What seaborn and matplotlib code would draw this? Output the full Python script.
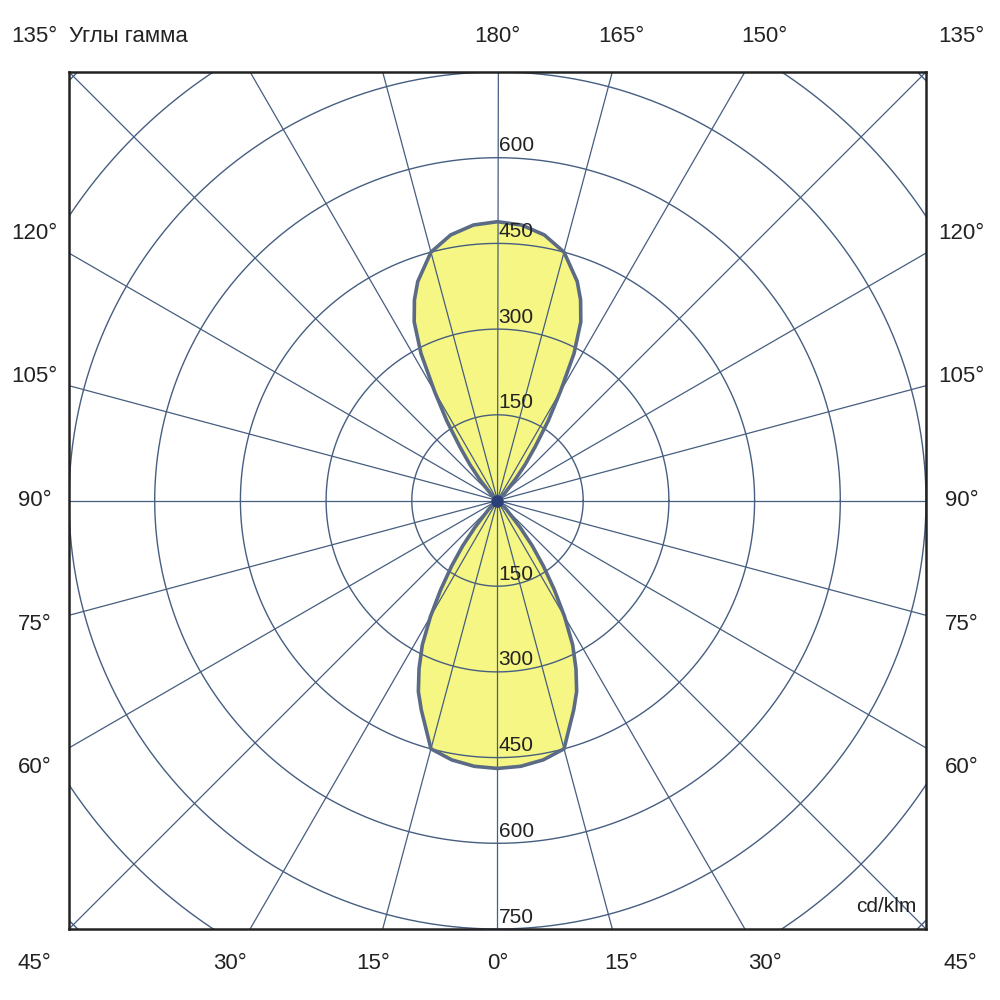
import numpy as np
import matplotlib.pyplot as plt
import seaborn as sns

# gamma angle (deg from nadir) and luminous intensity, cd/klm
gamma = [0, 5, 10, 15, 20, 22.5, 25, 27.5, 30, 32.5, 35, 37.5, 40, 45, 50, 55, 60,
         90,
         120, 125, 130, 135, 140, 142.5, 145, 147.5, 150, 152.5, 155, 157.5, 160,
         165, 170, 175, 180]
intensity = [469, 467, 461, 450, 390, 362, 325, 285, 235, 185, 140, 100, 62, 22, 6, 0, 0,
             0,
             0, 0, 5, 18, 50, 80, 115, 165, 220, 290, 345, 380, 408,
             450, 472, 484, 488]

upper_rings = [150, 300, 450, 600]
lower_rings = [150, 300, 450, 600, 750]
left_labels = [120, 105, 90, 75, 60]
right_labels = [120, 105, 90, 75, 60]
top_labels = [180, 165, 150]
bottom_labels = [45, 30, 15, 0, 15, 30, 45]

grid_col = '#465e80'
edge_col = '#5b6b86'
fill_col = '#f6f685'
text_col = '#222222'

sns.set_style('white')
plt.rcParams['font.family'] = ['Liberation Sans', 'DejaVu Sans']

fig = plt.figure(figsize=(10, 10), dpi=100)
ax = fig.add_axes([0.069, 0.071, 0.857, 0.857])

# polar grid
t = np.linspace(0, 2 * np.pi, 721)
for r in range(150, 1051, 150):
    ax.plot(r * np.cos(t), r * np.sin(t), color=grid_col, lw=1, zorder=2)
for a in range(0, 360, 15):
    ar = np.radians(a)
    ax.plot([0, 1200 * np.sin(ar)], [0, -1200 * np.cos(ar)], color=grid_col, lw=0.9, zorder=2)

# light distribution curve (symmetric)
g = np.radians(gamma)
I = np.array(intensity, dtype=float)
xr = I * np.sin(g)
yr = -I * np.cos(g)
x = np.concatenate([xr, -xr[::-1]])
y = np.concatenate([yr, yr[::-1]])
ax.fill(x, y, color=fill_col, zorder=1, lw=0)
sns.lineplot(x=x, y=y, sort=False, color=edge_col, lw=2.6, ax=ax, zorder=3, estimator=None)
ax.plot(0, 0, 'o', color='#2c3f78', ms=8, zorder=4)

# ring labels
for v in upper_rings:
    ax.text(2, v + 21, str(v), ha='left', va='center', fontsize=15, color=text_col, zorder=5)
for v in lower_rings:
    ax.text(2, -v + 21, str(v), ha='left', va='center', fontsize=15, color=text_col, zorder=5)

# outer angle labels
R = 810
fs = 16
for a in left_labels:
    yy = R * np.tan(np.radians(a - 90))
    ax.text(-R, yy, f'{a}°', ha='center', va='center', fontsize=fs, color=text_col, clip_on=False)
for a in right_labels:
    yy = R * np.tan(np.radians(a - 90))
    ax.text(R + 2, yy, f'{a}°', ha='center', va='center', fontsize=fs, color=text_col, clip_on=False)
for a in top_labels:
    xx = R * np.tan(np.radians(180 - a))
    ax.text(xx, R + 3, f'{a}°', ha='center', va='center', fontsize=fs, color=text_col, clip_on=False)
for i, a in enumerate(bottom_labels):
    s = -1 if i < 3 else 1
    xx = s * R * np.tan(np.radians(a))
    if a == 45:
        xx = s * R
    ax.text(xx, -R, f'{a}°', ha='center', va='center', fontsize=fs, color=text_col, clip_on=False)
ax.text(-R, R + 3, '135°', ha='center', va='center', fontsize=fs, color=text_col, clip_on=False)
ax.text(R + 2, R + 3, '135°', ha='center', va='center', fontsize=fs, color=text_col, clip_on=False)
ax.text(-750, R + 3, 'Углы гамма', ha='left', va='center', fontsize=fs, color=text_col, clip_on=False)
ax.text(733, -710, 'cd/klm', ha='right', va='center', fontsize=15, color=text_col, zorder=5)

ax.set_xlim(-750, 750)
ax.set_ylim(-750, 750)
ax.set_xticks([])
ax.set_yticks([])
ax.set_xlabel('')
ax.set_ylabel('')
for sp in ax.spines.values():
    sp.set_visible(True)
    sp.set_color('#222222')
    sp.set_linewidth(1.8)

fig.savefig('out.png', dpi=100)
